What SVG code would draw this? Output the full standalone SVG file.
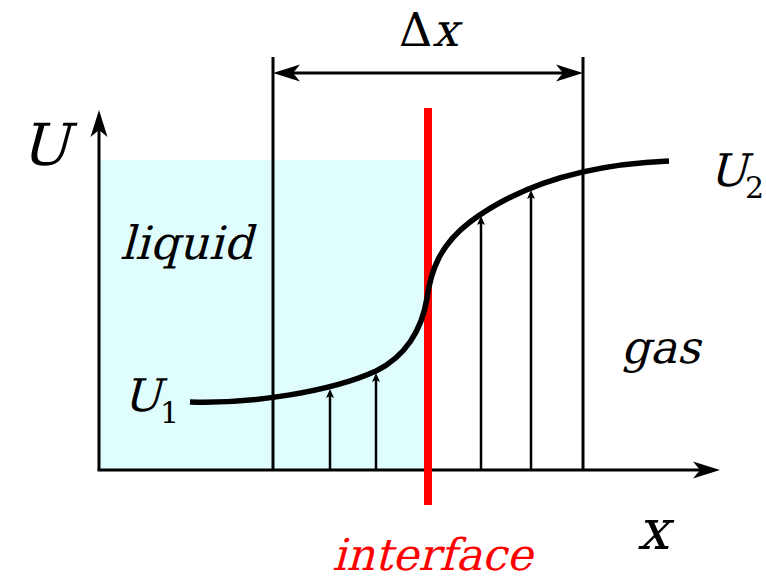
<svg xmlns="http://www.w3.org/2000/svg" width="766" height="582" viewBox="0 0 766 582">
<style>
.ln{stroke:#000;stroke-width:3;fill:none}
.sm{stroke:#000;stroke-width:2.5;fill:none}
.t{font-family:'DejaVu Serif','Liberation Serif',serif;fill:#000}
</style>
<defs>
<marker id="big" markerUnits="userSpaceOnUse" orient="auto-start-reverse" refX="0" refY="0" overflow="visible">
<path d="M15,0 L-12,-8.5 L-5,0 L-12,8.5 Z" fill="#000"/>
</marker>
<marker id="small" markerUnits="userSpaceOnUse" orient="auto" refX="0" refY="0" overflow="visible">
<path d="M4,0 L-5,-4 L-3,0 L-5,4 Z" fill="#000"/>
</marker>
</defs>
<rect id="liquid-region" x="99" y="160" width="329" height="309" fill="#e0fdfd"/>
<g id="connectors">
<line class="ln" x1="99" y1="470" x2="99" y2="125" marker-end="url(#big)"/>
<line class="ln" x1="97.5" y1="470" x2="705" y2="470" marker-end="url(#big)"/>
<line class="ln" x1="273" y1="57" x2="273" y2="469"/>
<line class="ln" x1="583" y1="57" x2="583" y2="469"/>
<line class="ln" x1="288" y1="73" x2="568" y2="73" marker-start="url(#big)" marker-end="url(#big)"/>
<line class="sm" x1="330" y1="469" x2="330" y2="393" marker-end="url(#small)"/>
<line class="sm" x1="376" y1="469" x2="376" y2="377" marker-end="url(#small)"/>
<line class="sm" x1="481" y1="469" x2="481" y2="220" marker-end="url(#small)"/>
<line class="sm" x1="531" y1="469" x2="531" y2="194" marker-end="url(#small)"/>
</g>
<g id="interface-line">
<line x1="428" y1="108" x2="428" y2="505" stroke="#ff0000" stroke-width="8"/>
</g>
<g id="curve">
<path d="M190,402 C250,404 330,392 376,371 C405,357 422,330 427,298 C431,270 440,245 470,222 C510,192 570,165 669,161" fill="none" stroke="#000" stroke-width="5.5"/>
</g>
<g id="labels">
<text class="t" transform="translate(20,165) skewX(-15)" font-size="58">U</text>
<text class="t" x="399" y="46" font-size="46">Δ</text>
<text class="t" transform="translate(432,46) skewX(-15)" font-size="46">x</text>
<text class="t" transform="translate(120,259) skewX(-15)" font-size="46">liquid</text>
<text class="t" transform="translate(123,411) skewX(-15)" font-size="45">U</text>
<text class="t" x="160" y="423" font-size="30">1</text>
<text class="t" transform="translate(709,186) skewX(-15)" font-size="45">U</text>
<text class="t" x="745" y="198" font-size="30">2</text>
<text class="t" transform="translate(621,363) skewX(-15)" font-size="45">gas</text>
<text class="t" transform="translate(637,549) skewX(-15)" font-size="56">x</text>
<text class="t" transform="translate(332,570) skewX(-15)" font-size="44" style="fill:#ff0000">interface</text>
</g>
</svg>
